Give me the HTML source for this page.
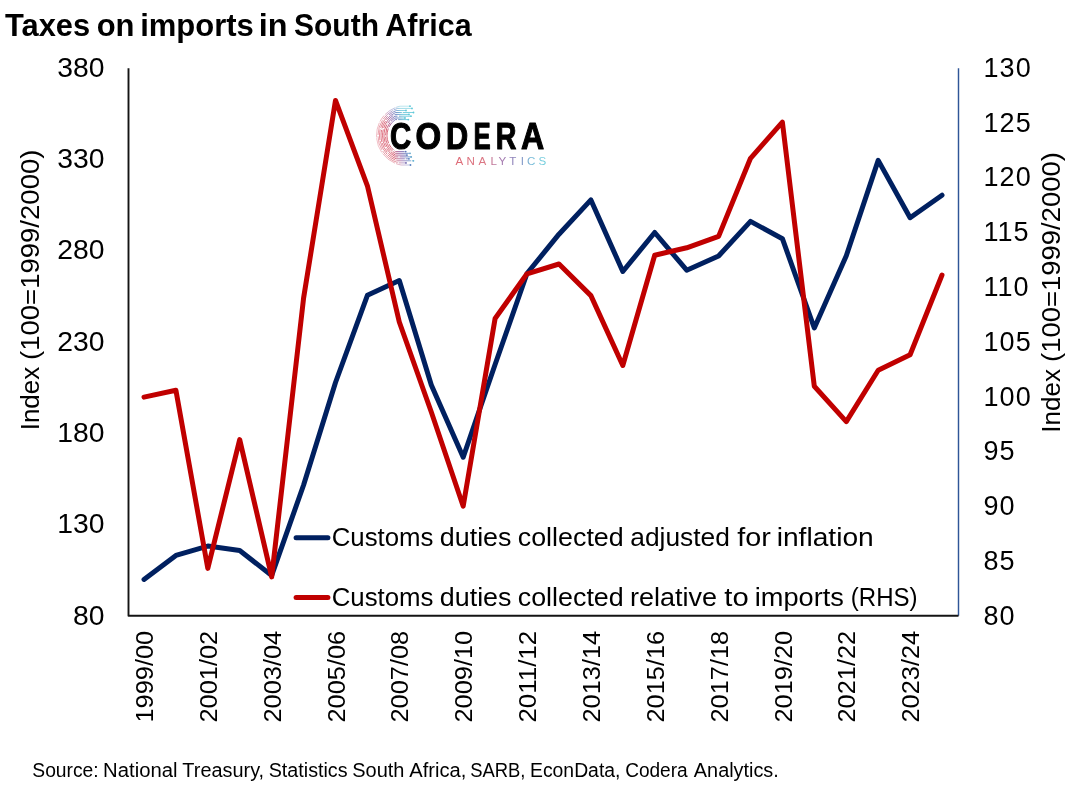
<!DOCTYPE html>
<html><head><meta charset="utf-8"><style>
html,body{margin:0;padding:0;background:#fff;}
body{width:1080px;height:794px;overflow:hidden;}
svg{display:block;font-family:"Liberation Sans",sans-serif;will-change:transform;}
</style></head><body>
<svg width="1080" height="794" viewBox="0 0 1080 794">
<defs>
<linearGradient id="ag" gradientUnits="userSpaceOnUse" x1="456" y1="0" x2="545" y2="0">
<stop offset="0" stop-color="#d9505e"/><stop offset="0.33" stop-color="#d46070"/><stop offset="0.5" stop-color="#9a62a0"/><stop offset="0.7" stop-color="#6f74b4"/><stop offset="0.85" stop-color="#62b0d2"/><stop offset="1" stop-color="#5cc8d8"/>
</linearGradient>
<linearGradient id="cg" gradientUnits="userSpaceOnUse" x1="376" y1="140" x2="414.6" y2="129.6">
<stop offset="0" stop-color="#e07080"/><stop offset="0.33" stop-color="#d24a5e"/><stop offset="0.5" stop-color="#8a5aa4"/><stop offset="0.65" stop-color="#5a78bc"/><stop offset="0.8" stop-color="#5ec0d6"/><stop offset="1" stop-color="#5ec8d8"/>
</linearGradient>
</defs>
<rect width="1080" height="794" fill="#fff"/>
<g font-size="31" font-weight="bold" fill="#000">
<text x="4.96" y="36.1" textLength="85.17" lengthAdjust="spacingAndGlyphs">Taxes</text>
<text x="96.69" y="36.1" textLength="37.83" lengthAdjust="spacingAndGlyphs">on</text>
<text x="140.13" y="36.1" textLength="113.74" lengthAdjust="spacingAndGlyphs">imports</text>
<text x="258.74" y="36.1" textLength="28.77" lengthAdjust="spacingAndGlyphs">in</text>
<text x="294.04" y="36.1" textLength="84.92" lengthAdjust="spacingAndGlyphs">South</text>
<text x="385.34" y="36.1" textLength="86.37" lengthAdjust="spacingAndGlyphs">Africa</text>
</g>
<!-- axes -->
<path d="M958.5,68.3 V615.8" fill="none" stroke="#2F5597" stroke-width="1.45"/>
<path d="M128.5,68.3 V615.8 H958.5" fill="none" stroke="#141414" stroke-width="1.9" stroke-linejoin="round"/>
<g font-size="28.3" fill="#000">
<text x="104.5" y="76.6" text-anchor="end">380</text>
<text x="104.5" y="167.9" text-anchor="end">330</text>
<text x="104.5" y="259.3" text-anchor="end">280</text>
<text x="104.5" y="350.6" text-anchor="end">230</text>
<text x="104.5" y="441.9" text-anchor="end">180</text>
<text x="104.5" y="533.3" text-anchor="end">130</text>
<text x="104.5" y="624.6" text-anchor="end">80</text>
</g>
<g font-size="27" fill="#000" letter-spacing="1">
<text x="983.6" y="76.8">130</text>
<text x="983.6" y="131.6">125</text>
<text x="983.6" y="186.4">120</text>
<text x="983.6" y="241.2">115</text>
<text x="983.6" y="296.0">110</text>
<text x="983.6" y="350.8">105</text>
<text x="983.6" y="405.6">100</text>
<text x="983.6" y="460.4">95</text>
<text x="983.6" y="515.2">90</text>
<text x="983.6" y="570.0">85</text>
<text x="983.6" y="624.8">80</text>
</g>
<g font-size="23.3" fill="#000">
<text transform="translate(153.1,722.6) rotate(-90)" textLength="91.8" lengthAdjust="spacingAndGlyphs">1999/00</text>
<text transform="translate(216.9,722.6) rotate(-90)" textLength="91.8" lengthAdjust="spacingAndGlyphs">2001/02</text>
<text transform="translate(280.8,722.6) rotate(-90)" textLength="91.8" lengthAdjust="spacingAndGlyphs">2003/04</text>
<text transform="translate(344.6,722.6) rotate(-90)" textLength="91.8" lengthAdjust="spacingAndGlyphs">2005/06</text>
<text transform="translate(408.4,722.6) rotate(-90)" textLength="91.8" lengthAdjust="spacingAndGlyphs">2007/08</text>
<text transform="translate(472.3,722.6) rotate(-90)" textLength="91.8" lengthAdjust="spacingAndGlyphs">2009/10</text>
<text transform="translate(536.1,722.6) rotate(-90)" textLength="91.8" lengthAdjust="spacingAndGlyphs">2011/12</text>
<text transform="translate(600.0,722.6) rotate(-90)" textLength="91.8" lengthAdjust="spacingAndGlyphs">2013/14</text>
<text transform="translate(663.8,722.6) rotate(-90)" textLength="91.8" lengthAdjust="spacingAndGlyphs">2015/16</text>
<text transform="translate(727.7,722.6) rotate(-90)" textLength="91.8" lengthAdjust="spacingAndGlyphs">2017/18</text>
<text transform="translate(791.5,722.6) rotate(-90)" textLength="91.8" lengthAdjust="spacingAndGlyphs">2019/20</text>
<text transform="translate(855.4,722.6) rotate(-90)" textLength="91.8" lengthAdjust="spacingAndGlyphs">2021/22</text>
<text transform="translate(919.2,722.6) rotate(-90)" textLength="91.8" lengthAdjust="spacingAndGlyphs">2023/24</text>
</g>
<g font-size="26.5" fill="#000">
<text transform="translate(39.1,427.90) rotate(-90)" x="-2.39" y="0" textLength="63.37" lengthAdjust="spacingAndGlyphs">Index</text>
<text transform="translate(39.1,358.30) rotate(-90)" x="-1.71" y="0" textLength="210.41" lengthAdjust="spacingAndGlyphs">(100=1999/2000)</text>
</g>
<g font-size="26.5" fill="#000">
<text transform="translate(1060.4,430.30) rotate(-90)" x="-2.41" y="0" textLength="63.89" lengthAdjust="spacingAndGlyphs">Index</text>
<text transform="translate(1060.4,360.20) rotate(-90)" x="-1.70" y="0" textLength="209.70" lengthAdjust="spacingAndGlyphs">(100=1999/2000)</text>
</g>
<!-- series -->
<polyline points="144.0,579.4 175.9,555.4 207.8,546.1 239.7,550.6 271.7,575.4 303.6,485.0 335.5,382.5 367.4,295.3 399.3,280.6 431.3,385.0 463.2,457.2 495.1,364.5 527.0,273.5 559.0,234.2 590.9,199.9 622.8,271.5 654.7,232.5 686.7,270.2 718.6,256.0 750.5,221.4 782.4,238.7 814.3,328.0 846.3,255.7 878.2,160.4 910.1,217.7 942.0,195.2" fill="none" stroke="#002060" stroke-width="5" stroke-linejoin="round" stroke-linecap="round"/>
<polyline points="144.0,397.1 175.9,390.3 207.8,568.4 239.7,439.6 271.7,576.9 303.6,298.0 335.5,100.4 367.4,185.8 399.3,322.0 431.3,412.0 463.2,506.2 495.1,318.5 527.0,273.8 559.0,264.0 590.9,295.6 622.8,365.5 654.7,255.2 686.7,247.8 718.6,236.4 750.5,158.3 782.4,122.2 814.3,386.2 846.3,421.6 878.2,370.3 910.1,354.7 942.0,275.0" fill="none" stroke="#C00000" stroke-width="5" stroke-linejoin="round" stroke-linecap="round"/>
<!-- legend -->
<line x1="296.1" y1="537.7" x2="327.9" y2="537.7" stroke="#002060" stroke-width="5" stroke-linecap="round"/>
<line x1="296.1" y1="597.5" x2="327.9" y2="597.5" stroke="#C00000" stroke-width="5" stroke-linecap="round"/>
<g font-size="26.5" fill="#000">
<text x="331.69" y="546.3" textLength="101.84" lengthAdjust="spacingAndGlyphs">Customs</text>
<text x="439.87" y="546.3" textLength="71.60" lengthAdjust="spacingAndGlyphs">duties</text>
<text x="517.76" y="546.3" textLength="105.97" lengthAdjust="spacingAndGlyphs">collected</text>
<text x="630.28" y="546.3" textLength="99.51" lengthAdjust="spacingAndGlyphs">adjusted</text>
<text x="737.19" y="546.3" textLength="33.59" lengthAdjust="spacingAndGlyphs">for</text>
<text x="776.72" y="546.3" textLength="97.01" lengthAdjust="spacingAndGlyphs">inflation</text>
</g>
<g font-size="26.5" fill="#000">
<text x="331.69" y="605.6" textLength="101.84" lengthAdjust="spacingAndGlyphs">Customs</text>
<text x="439.87" y="605.6" textLength="71.60" lengthAdjust="spacingAndGlyphs">duties</text>
<text x="517.76" y="605.6" textLength="105.97" lengthAdjust="spacingAndGlyphs">collected</text>
<text x="629.91" y="605.6" textLength="86.99" lengthAdjust="spacingAndGlyphs">relative</text>
<text x="724.36" y="605.6" textLength="24.37" lengthAdjust="spacingAndGlyphs">to</text>
<text x="754.78" y="605.6" textLength="89.10" lengthAdjust="spacingAndGlyphs">imports</text>
<text x="850.81" y="605.6" textLength="66.78" lengthAdjust="spacingAndGlyphs">(RHS)</text>
</g>
<!-- source -->
<g font-size="19.5" fill="#000">
<text x="32.33" y="777.1" textLength="66.33" lengthAdjust="spacingAndGlyphs">Source:</text>
<text x="103.14" y="777.1" textLength="74.32" lengthAdjust="spacingAndGlyphs">National</text>
<text x="182.37" y="777.1" textLength="81.77" lengthAdjust="spacingAndGlyphs">Treasury,</text>
<text x="268.70" y="777.1" textLength="78.91" lengthAdjust="spacingAndGlyphs">Statistics</text>
<text x="352.29" y="777.1" textLength="52.20" lengthAdjust="spacingAndGlyphs">South</text>
<text x="409.26" y="777.1" textLength="57.05" lengthAdjust="spacingAndGlyphs">Africa,</text>
<text x="470.16" y="777.1" textLength="55.29" lengthAdjust="spacingAndGlyphs">SARB,</text>
<text x="530.01" y="777.1" textLength="90.43" lengthAdjust="spacingAndGlyphs">EconData,</text>
<text x="625.13" y="777.1" textLength="62.57" lengthAdjust="spacingAndGlyphs">Codera</text>
<text x="693.86" y="777.1" textLength="84.95" lengthAdjust="spacingAndGlyphs">Analytics.</text>
</g>
<!-- logo -->
<g id="logo">
<path d="M408.30,119.60L395.21,119.60A19.5,19.5 0 0 0 395.50,151.60L405.70,151.60" fill="none" stroke="url(#cg)" stroke-width="0.85" stroke-dasharray="10.1 1.2 11.8 1.3 15.1 0.9 7.2 1.5 10.4 1.0 19.9 1.2 17.9 1.2 15.3 0.9" stroke-opacity="1.00"/>
<circle cx="408.30" cy="119.60" r="0.9" fill="url(#cg)"/><circle cx="405.70" cy="151.60" r="0.9" fill="url(#cg)"/>
<path d="M405.00,118.00L394.89,118.00A21.0,21.0 0 0 0 395.36,153.30L410.00,153.30" fill="none" stroke="url(#cg)" stroke-width="0.85" stroke-dasharray="15.3 1.5 13.8 1.4 15.7 0.9 16.9 1.3 10.9 0.8 18.3 1.2 16.3 1.5 16.3 1.5" stroke-opacity="1.00"/>
<circle cx="405.00" cy="118.00" r="0.9" fill="url(#cg)"/><circle cx="410.00" cy="153.30" r="0.9" fill="url(#cg)"/>
<path d="M411.00,116.20L394.93,116.20A22.5,22.5 0 0 0 395.45,155.10L407.00,155.10" fill="none" stroke="url(#cg)" stroke-width="0.85" stroke-dasharray="12.1 1.4 12.8 1.5 18.4 0.9 8.8 1.0 19.6 1.1 15.1 1.0 13.6 1.1 11.6 1.3" stroke-opacity="1.00"/>
<circle cx="411.00" cy="116.20" r="0.9" fill="url(#cg)"/><circle cx="407.00" cy="155.10" r="0.9" fill="url(#cg)"/>
<path d="M409.00,114.40L395.06,114.40A24.0,24.0 0 0 0 395.64,156.90L411.20,156.90" fill="none" stroke="url(#cg)" stroke-width="0.85" stroke-dasharray="14.6 1.5 15.9 1.5 18.1 1.6 15.7 0.9 18.2 1.6 18.8 1.3 16.3 1.0 17.8 1.3" stroke-opacity="1.00"/>
<circle cx="409.00" cy="114.40" r="0.9" fill="url(#cg)"/><circle cx="411.20" cy="156.90" r="0.9" fill="url(#cg)"/>
<path d="M413.50,112.50L395.49,112.50A25.5,25.5 0 0 0 396.14,158.80L409.00,158.80" fill="none" stroke="url(#cg)" stroke-width="0.85" stroke-dasharray="10.7 0.9 18.1 1.6 8.2 1.4 12.3 0.9 10.8 1.4 18.3 0.8 15.0 0.8 16.3 1.1" stroke-opacity="0.95"/>
<circle cx="413.50" cy="112.50" r="0.9" fill="url(#cg)"/><circle cx="409.00" cy="158.80" r="0.9" fill="url(#cg)"/>
<path d="M406.00,110.50L396.30,110.50A27.0,27.0 0 0 0 397.07,160.80L413.40,160.80" fill="none" stroke="url(#cg)" stroke-width="0.85" stroke-dasharray="18.5 1.6 13.6 1.6 11.0 0.9 14.8 0.8 9.6 1.1 14.9 0.9 7.6 1.5 11.1 1.6" stroke-opacity="0.85"/>
<circle cx="406.00" cy="110.50" r="0.9" fill="url(#cg)"/><circle cx="413.40" cy="160.80" r="0.9" fill="url(#cg)"/>
<path d="M412.00,108.40L397.68,108.40A28.5,28.5 0 0 0 398.66,162.90L406.00,162.90" fill="none" stroke="url(#cg)" stroke-width="0.85" stroke-dasharray="18.7 1.1 13.0 1.2 15.4 1.3 14.3 1.3 19.2 1.2 12.6 1.4 10.1 1.0 19.7 1.2" stroke-opacity="0.70"/>
<circle cx="412.00" cy="108.40" r="0.9" fill="url(#cg)"/><circle cx="406.00" cy="162.90" r="0.9" fill="url(#cg)"/>
<path d="M410.00,106.20L400.06,106.20A30.0,30.0 0 0 0 401.05,165.00L410.50,165.00" fill="none" stroke="url(#cg)" stroke-width="0.85" stroke-dasharray="14.1 0.8 12.4 1.3 7.3 1.3 15.2 0.8 15.2 1.2 15.8 1.1 16.2 1.4 7.3 0.8" stroke-opacity="0.50"/>
<circle cx="410.00" cy="106.20" r="0.9" fill="url(#cg)"/><circle cx="410.50" cy="165.00" r="0.9" fill="url(#cg)"/>
<g font-size="36.5" font-weight="bold" fill="#000" stroke="#000" stroke-width="1.1" stroke-linejoin="round">
<text x="389.95" y="149.3" textLength="21.20" lengthAdjust="spacingAndGlyphs">C</text>
<text x="415.45" y="149.3" textLength="25.70" lengthAdjust="spacingAndGlyphs">O</text>
<text x="445.95" y="149.3" textLength="22.20" lengthAdjust="spacingAndGlyphs">D</text>
<text x="473.45" y="149.3" textLength="17.20" lengthAdjust="spacingAndGlyphs">E</text>
<text x="495.75" y="149.3" textLength="20.70" lengthAdjust="spacingAndGlyphs">R</text>
<text x="520.95" y="149.3" textLength="23.20" lengthAdjust="spacingAndGlyphs">A</text>
</g>
<g font-size="11.6" fill="url(#ag)" fill-opacity="0.85">
<text x="455.4" y="164.6">A</text>
<text x="466.5" y="164.6">N</text>
<text x="478.5" y="164.6">A</text>
<text x="490.5" y="164.6">L</text>
<text x="498.5" y="164.6">Y</text>
<text x="509.2" y="164.6">T</text>
<text x="520.7" y="164.6">I</text>
<text x="527.0" y="164.6">C</text>
<text x="538.5" y="164.6">S</text>
</g>
</g>
</svg>
</body></html>
